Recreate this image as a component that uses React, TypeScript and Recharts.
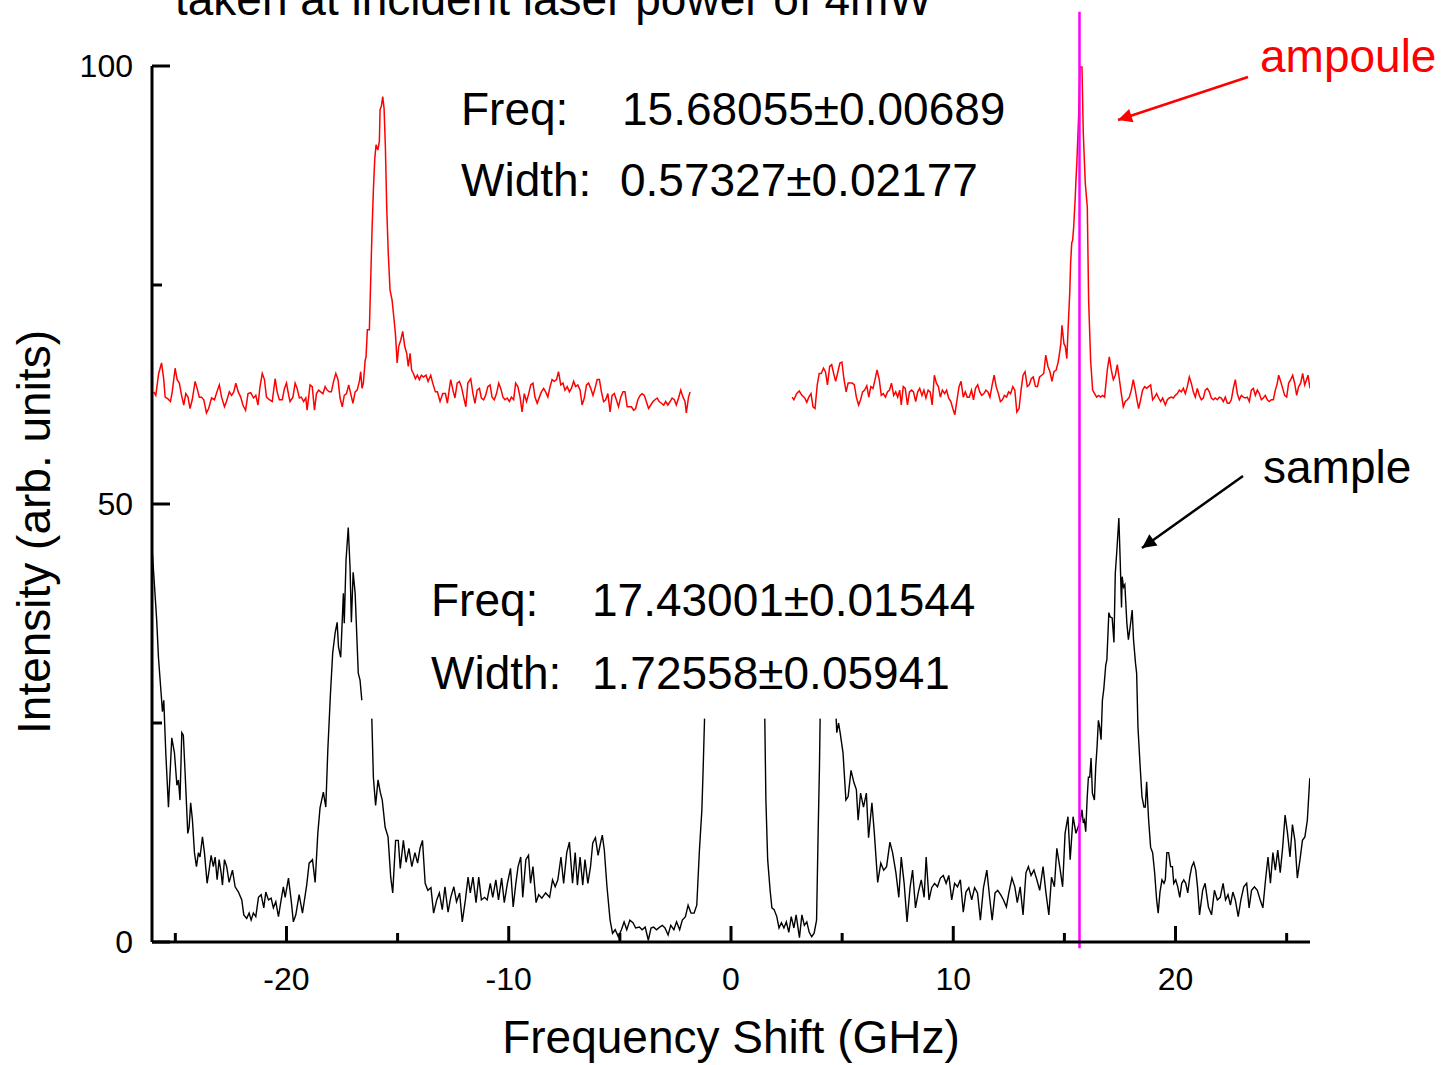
import { LineChart, Line, XAxis, YAxis, ReferenceLine } from 'recharts';

// Brillouin spectra: sample (black) and ampoule (red), frequency shift in GHz vs intensity

const xTicks = [-25, -20, -15, -10, -5, 0, 5, 10, 15, 20, 25];
const yTicks = [0, 25, 50, 75, 100];
const ampoulePeak = 15.68;

// sample trace, split where the line is hidden behind the fit box / Rayleigh line
const sampleWingLeft: [number, number][] = [
  [-26.04, 44.7], [-25.84, 36.8], [-25.76, 32.5], [-25.64, 28.4], [-25.58, 26.3], [-25.52, 27.6], [-25.43, 21.6], [-25.31, 15.4],
  [-25.16, 23.3], [-25.04, 21.6], [-24.93, 17.9], [-24.86, 18.5], [-24.79, 16.2], [-24.71, 23.9], [-24.64, 23.6], [-24.56, 19.3],
  [-24.44, 12.4], [-24.38, 13.1], [-24.31, 15.9], [-24.23, 13.9], [-24.14, 10.2], [-24.05, 8.6], [-23.96, 10.2], [-23.89, 9.7],
  [-23.78, 12.0], [-23.69, 10.2], [-23.57, 6.7], [-23.48, 8.2], [-23.39, 9.9], [-23.29, 8.6], [-23.21, 9.7], [-23.12, 7.1],
  [-23.03, 9.4], [-22.94, 7.9], [-22.88, 6.5], [-22.79, 9.4], [-22.69, 8.6], [-22.58, 6.8], [-22.43, 8.2], [-22.31, 6.3],
  [-22.16, 5.7], [-22.01, 4.8], [-21.92, 3.1], [-21.79, 2.7], [-21.68, 3.3], [-21.59, 2.5], [-21.49, 3.3], [-21.38, 2.9],
  [-21.26, 5.1], [-21.14, 5.4], [-21.02, 3.9], [-20.93, 5.7], [-20.81, 4.8], [-20.69, 5.0], [-20.59, 3.9], [-20.48, 4.6],
  [-20.36, 2.9], [-20.24, 4.8], [-20.14, 6.3], [-20.06, 5.1], [-19.91, 7.3], [-19.79, 4.8], [-19.69, 2.3], [-19.58, 3.1],
  [-19.43, 5.4], [-19.28, 3.3], [-19.09, 6.5], [-18.98, 9.0], [-18.83, 9.4], [-18.71, 6.8], [-18.59, 12.4], [-18.49, 15.3],
  [-18.34, 17.1], [-18.23, 15.4], [-18.14, 21.9], [-18.02, 28.4], [-17.92, 33.0], [-17.81, 35.3], [-17.72, 36.5], [-17.66, 33.7],
  [-17.56, 32.5], [-17.44, 39.8], [-17.40, 36.4], [-17.32, 43.6], [-17.22, 47.3], [-17.14, 42.8], [-17.08, 36.5], [-17.00, 42.2],
  [-16.91, 39.8], [-16.77, 30.7], [-16.69, 29.9], [-16.61, 27.6],
];

const sampleWingMid: [number, number][] = [
  [-16.16, 25.5], [-16.09, 18.8], [-15.99, 15.6], [-15.88, 18.5], [-15.78, 17.1], [-15.69, 16.2], [-15.56, 13.1], [-15.43, 12.0],
  [-15.31, 7.4], [-15.22, 5.6], [-15.09, 11.6], [-14.97, 11.6], [-14.88, 8.4], [-14.74, 11.6], [-14.62, 9.1], [-14.49, 10.7],
  [-14.36, 8.6], [-14.22, 10.2], [-14.10, 9.0], [-13.99, 10.7], [-13.88, 11.6], [-13.76, 6.7], [-13.64, 5.9], [-13.50, 6.2],
  [-13.38, 3.3], [-13.24, 4.8], [-13.12, 5.6], [-12.99, 3.7], [-12.87, 6.3], [-12.73, 3.4], [-12.61, 5.1], [-12.47, 6.3],
  [-12.35, 4.6], [-12.21, 5.6], [-12.09, 2.3], [-11.95, 4.8], [-11.83, 7.4], [-11.73, 5.6], [-11.61, 7.4], [-11.47, 4.5],
  [-11.35, 7.4], [-11.23, 4.8], [-11.09, 5.1], [-10.97, 4.8], [-10.83, 6.7], [-10.72, 5.1], [-10.58, 7.1], [-10.46, 4.8],
  [-10.32, 7.3], [-10.20, 4.5], [-10.06, 6.7], [-9.92, 8.4], [-9.80, 4.0], [-9.68, 6.7], [-9.58, 8.6], [-9.46, 9.7],
  [-9.37, 5.1], [-9.23, 9.4], [-9.11, 9.9], [-9.02, 6.7], [-8.91, 8.6], [-8.77, 4.5], [-8.65, 5.4], [-8.51, 5.0],
  [-8.34, 5.6], [-8.16, 5.1], [-8.03, 7.1], [-7.91, 6.3], [-7.79, 7.1], [-7.65, 9.7], [-7.53, 6.7], [-7.39, 10.2],
  [-7.27, 11.4], [-7.13, 6.7], [-7.01, 10.2], [-6.91, 6.5], [-6.79, 9.7], [-6.67, 6.5], [-6.57, 9.4], [-6.44, 6.7],
  [-6.32, 8.6], [-6.22, 11.3], [-6.10, 11.9], [-5.98, 9.9], [-5.87, 11.3], [-5.79, 12.2], [-5.70, 10.5], [-5.58, 6.3],
  [-5.44, 2.5], [-5.33, 1.0], [-5.21, 1.4], [-5.07, 0.6], [-4.93, 1.4], [-4.81, 2.3], [-4.69, 1.4], [-4.55, 2.5],
  [-4.41, 2.2], [-4.29, 1.6], [-4.12, 1.7], [-4.00, 1.4], [-3.86, 1.7], [-3.72, 0.2], [-3.60, 1.6], [-3.48, 1.7],
  [-3.35, 1.4], [-3.21, 1.7], [-3.09, 1.9], [-2.97, 1.6], [-2.83, 0.8], [-2.71, 1.9], [-2.57, 1.4], [-2.45, 2.3],
  [-2.31, 1.4], [-2.19, 2.5], [-2.05, 2.9], [-1.93, 4.2], [-1.80, 3.3], [-1.66, 3.3], [-1.54, 4.2], [-1.42, 10.5],
  [-1.31, 15.1], [-1.25, 20.0], [-1.19, 25.5],
];

const sampleCentre: [number, number][] = [
  [1.52, 25.5], [1.57, 16.2], [1.65, 9.4], [1.76, 5.9], [1.84, 3.9], [1.94, 3.7], [2.06, 2.9], [2.16, 1.6],
  [2.27, 2.2], [2.38, 1.6], [2.49, 2.3], [2.60, 1.1], [2.71, 2.9], [2.83, 1.6], [2.93, 3.1], [3.08, 0.5],
  [3.19, 3.1], [3.30, 1.9], [3.41, 2.3], [3.52, 1.1], [3.63, 0.6], [3.74, 1.0], [3.85, 2.5], [3.92, 12.4],
  [3.98, 20.0], [4.01, 25.5],
];

const sampleWingRight: [number, number][] = [
  [4.73, 25.5], [4.76, 23.9], [4.84, 25.0], [4.91, 23.9], [5.04, 21.6], [5.17, 16.2], [5.27, 16.6], [5.40, 19.6],
  [5.53, 18.2], [5.64, 17.4], [5.72, 13.9], [5.83, 17.0], [5.96, 15.4], [6.09, 17.0], [6.19, 11.9], [6.34, 15.9],
  [6.45, 12.4], [6.60, 6.8], [6.74, 9.0], [6.87, 8.2], [7.00, 8.6], [7.15, 11.4], [7.27, 10.2], [7.42, 7.9],
  [7.55, 5.1], [7.66, 9.7], [7.79, 6.7], [7.92, 2.3], [8.06, 6.3], [8.17, 8.2], [8.30, 3.9], [8.43, 5.7],
  [8.56, 7.1], [8.69, 5.1], [8.78, 9.7], [8.91, 4.8], [9.03, 6.2], [9.16, 6.7], [9.29, 6.3], [9.42, 7.3],
  [9.55, 7.6], [9.68, 6.7], [9.80, 7.6], [9.93, 4.8], [10.06, 6.7], [10.19, 6.3], [10.32, 7.1], [10.45, 3.4],
  [10.57, 5.7], [10.70, 6.2], [10.83, 4.8], [10.96, 6.2], [11.09, 5.6], [11.22, 2.5], [11.36, 6.2], [11.51, 8.2],
  [11.64, 5.0], [11.75, 2.5], [11.88, 5.6], [12.00, 5.9], [12.13, 5.4], [12.26, 4.8], [12.39, 4.0], [12.50, 5.6],
  [12.64, 7.3], [12.77, 6.3], [12.88, 4.5], [13.01, 6.3], [13.14, 3.1], [13.27, 7.9], [13.38, 8.6], [13.50, 7.6],
  [13.63, 8.2], [13.76, 7.1], [13.89, 5.9], [14.04, 8.6], [14.17, 5.6], [14.30, 3.1], [14.42, 7.4], [14.55, 6.3],
  [14.66, 10.7], [14.79, 8.6], [14.92, 6.3], [15.03, 12.4], [15.16, 14.3], [15.26, 9.4], [15.39, 14.3], [15.52, 12.4],
  [15.72, 13.9], [15.79, 15.1], [15.85, 13.6], [15.90, 13.9], [15.96, 12.6], [16.02, 16.2], [16.08, 18.8], [16.14, 18.8],
  [16.20, 21.0], [16.26, 17.0], [16.35, 16.2], [16.41, 20.0], [16.47, 22.3], [16.53, 25.3], [16.59, 24.5], [16.65, 23.1],
  [16.71, 27.6], [16.77, 28.8], [16.86, 31.6], [16.91, 32.2], [17.00, 37.6], [17.06, 37.1], [17.15, 37.0], [17.23, 34.2],
  [17.29, 42.1], [17.36, 44.7], [17.45, 48.4], [17.51, 43.6], [17.57, 38.2], [17.60, 41.7], [17.66, 40.5], [17.72, 40.8],
  [17.81, 36.4], [17.88, 34.5], [17.96, 36.0], [18.05, 37.9], [18.11, 34.5], [18.20, 31.8], [18.25, 30.7], [18.31, 24.5],
  [18.40, 20.4], [18.49, 16.6], [18.58, 15.4], [18.64, 15.4], [18.70, 18.3], [18.79, 13.9], [18.88, 10.8], [18.97, 10.2],
  [19.06, 7.9], [19.15, 4.8], [19.22, 3.3], [19.30, 5.7], [19.39, 7.1], [19.48, 6.7], [19.54, 7.1], [19.61, 10.2],
  [19.69, 10.2], [19.78, 8.6], [19.86, 8.6], [19.92, 6.7], [20.01, 7.1], [20.10, 6.3], [20.19, 5.1], [20.28, 6.7],
  [20.37, 7.1], [20.46, 6.7], [20.55, 5.6], [20.64, 7.4], [20.73, 8.6], [20.82, 9.1], [20.91, 8.2], [20.99, 6.3],
  [21.08, 3.1], [21.22, 5.9], [21.33, 6.7], [21.48, 4.0], [21.62, 3.1], [21.75, 5.9], [21.88, 4.8], [22.01, 5.1],
  [22.14, 6.7], [22.25, 4.8], [22.36, 5.4], [22.47, 4.2], [22.58, 5.7], [22.69, 4.8], [22.82, 2.9], [22.94, 4.8],
  [23.07, 6.3], [23.20, 6.7], [23.31, 3.9], [23.42, 5.9], [23.55, 6.3], [23.68, 5.9], [23.81, 4.8], [23.93, 3.9],
  [24.05, 7.1], [24.16, 9.7], [24.27, 6.7], [24.38, 10.2], [24.49, 8.2], [24.60, 10.5], [24.71, 7.9], [24.82, 10.8],
  [24.93, 14.5], [25.04, 12.4], [25.15, 9.7], [25.26, 13.4], [25.37, 11.6], [25.48, 7.3], [25.60, 9.4], [25.71, 11.6],
  [25.82, 12.0], [25.93, 13.9], [26.04, 18.7],
];

// ampoule trace (red), missing around the Rayleigh line
const ampouleLeft: [number, number][] = [
  [-25.97, 62.8], [-25.88, 62.4], [-25.75, 64.9], [-25.62, 66.1], [-25.52, 64.2], [-25.46, 62.2], [-25.33, 62.0], [-25.22, 61.7],
  [-25.14, 62.8], [-25.01, 65.5], [-24.92, 64.2], [-24.82, 63.8], [-24.72, 62.4], [-24.62, 61.3], [-24.53, 62.6], [-24.43, 62.2],
  [-24.34, 60.9], [-24.24, 61.9], [-24.11, 64.0], [-24.02, 63.2], [-23.92, 62.2], [-23.82, 62.2], [-23.72, 61.9], [-23.60, 60.4],
  [-23.50, 60.9], [-23.37, 62.1], [-23.24, 61.9], [-23.13, 62.8], [-23.02, 63.6], [-22.92, 62.2], [-22.79, 61.1], [-22.70, 61.7],
  [-22.57, 62.8], [-22.47, 62.4], [-22.37, 62.8], [-22.28, 63.8], [-22.17, 62.8], [-22.06, 62.2], [-21.96, 61.3], [-21.84, 60.7],
  [-21.73, 62.6], [-21.61, 62.7], [-21.48, 62.1], [-21.38, 62.4], [-21.28, 61.3], [-21.19, 63.4], [-21.09, 64.9], [-20.99, 64.2],
  [-20.90, 62.2], [-20.77, 61.9], [-20.64, 61.7], [-20.51, 64.3], [-20.42, 62.8], [-20.32, 61.9], [-20.19, 61.9], [-20.09, 63.2],
  [-20.00, 63.8], [-19.90, 62.4], [-19.84, 61.7], [-19.71, 62.2], [-19.61, 63.8], [-19.52, 63.2], [-19.42, 62.1], [-19.33, 62.2],
  [-19.23, 61.7], [-19.13, 62.1], [-19.07, 60.7], [-18.94, 63.6], [-18.84, 63.4], [-18.74, 60.7], [-18.65, 62.6], [-18.55, 63.0],
  [-18.46, 62.8], [-18.36, 62.6], [-18.26, 63.4], [-18.17, 63.0], [-18.07, 62.8], [-17.98, 62.8], [-17.88, 64.0], [-17.78, 64.9],
  [-17.68, 64.2], [-17.59, 62.1], [-17.49, 61.1], [-17.40, 62.4], [-17.30, 62.6], [-17.20, 63.6], [-17.11, 62.6], [-17.01, 61.5],
  [-16.91, 62.8], [-16.82, 63.0], [-16.72, 64.0], [-16.66, 65.1], [-16.60, 63.2], [-16.54, 63.8], [-16.46, 66.4], [-16.42, 66.8],
  [-16.36, 69.9], [-16.27, 69.9], [-16.21, 75.6], [-16.15, 81.3], [-16.09, 85.8], [-16.03, 89.3], [-15.97, 91.0], [-15.89, 90.4],
  [-15.82, 91.4], [-15.79, 95.0], [-15.73, 95.4], [-15.67, 96.5], [-15.61, 95.2], [-15.55, 90.8], [-15.49, 83.9], [-15.42, 78.6],
  [-15.34, 74.4], [-15.25, 73.3], [-15.19, 71.8], [-15.10, 69.5], [-15.02, 66.1], [-14.95, 68.0], [-14.86, 68.7], [-14.77, 69.7],
  [-14.68, 68.0], [-14.59, 67.2], [-14.52, 65.7], [-14.44, 67.2], [-14.37, 65.3], [-14.29, 64.9], [-14.20, 64.3], [-14.11, 64.7],
  [-14.02, 64.2], [-13.93, 64.7], [-13.84, 64.5], [-13.72, 64.7], [-13.63, 64.0], [-13.51, 64.7], [-13.42, 63.8], [-13.30, 62.8],
  [-13.21, 62.8], [-13.09, 61.7], [-12.97, 62.6], [-12.85, 62.6], [-12.76, 61.5], [-12.67, 63.2], [-12.61, 64.2], [-12.51, 63.0],
  [-12.42, 62.1], [-12.32, 63.8], [-12.22, 64.0], [-12.13, 63.4], [-12.03, 62.2], [-11.93, 61.1], [-11.84, 63.8], [-11.71, 64.3],
  [-11.61, 62.6], [-11.52, 61.5], [-11.42, 63.0], [-11.32, 63.2], [-11.23, 62.1], [-11.13, 61.9], [-11.04, 62.4], [-10.94, 63.4],
  [-10.84, 63.6], [-10.75, 62.2], [-10.65, 61.9], [-10.55, 62.6], [-10.45, 63.8], [-10.36, 63.2], [-10.26, 62.2], [-10.17, 61.9],
  [-10.07, 62.1], [-9.97, 61.7], [-9.88, 62.2], [-9.78, 61.9], [-9.69, 63.8], [-9.59, 63.4], [-9.49, 62.2], [-9.40, 60.5],
  [-9.30, 62.6], [-9.20, 61.7], [-9.10, 62.6], [-9.01, 63.6], [-8.91, 63.8], [-8.82, 62.2], [-8.72, 61.5], [-8.62, 62.2],
  [-8.53, 62.8], [-8.43, 63.2], [-8.34, 62.8], [-8.24, 62.2], [-8.14, 63.4], [-8.05, 64.2], [-7.95, 64.0], [-7.85, 64.2],
  [-7.76, 65.1], [-7.66, 63.6], [-7.56, 63.8], [-7.47, 63.0], [-7.37, 63.4], [-7.27, 62.8], [-7.18, 63.2], [-7.08, 64.0],
  [-6.99, 63.4], [-6.89, 63.6], [-6.79, 63.0], [-6.70, 61.3], [-6.60, 62.1], [-6.50, 63.6], [-6.41, 63.8], [-6.31, 63.2],
  [-6.21, 62.4], [-6.12, 63.2], [-6.02, 64.2], [-5.92, 64.2], [-5.83, 62.8], [-5.73, 61.7], [-5.64, 61.9], [-5.54, 62.6],
  [-5.44, 60.5], [-5.35, 62.4], [-5.25, 62.6], [-5.16, 61.9], [-5.06, 61.1], [-4.96, 62.2], [-4.86, 62.8], [-4.77, 62.8],
  [-4.67, 61.1], [-4.57, 61.1], [-4.48, 61.1], [-4.38, 60.7], [-4.29, 60.9], [-4.19, 61.9], [-4.09, 62.4], [-4.00, 62.6],
  [-3.90, 62.4], [-3.81, 61.7], [-3.71, 60.9], [-3.61, 61.3], [-3.51, 61.7], [-3.42, 61.9], [-3.32, 62.1], [-3.23, 61.7],
  [-3.13, 61.5], [-3.03, 61.3], [-2.94, 61.7], [-2.84, 61.3], [-2.74, 61.7], [-2.65, 62.1], [-2.55, 61.9], [-2.46, 61.3],
  [-2.36, 62.1], [-2.26, 63.0], [-2.16, 62.2], [-2.07, 61.7], [-2.01, 60.4], [-1.91, 62.2], [-1.84, 62.8],
];

const ampouleRight: [number, number][] = [
  [2.75, 62.2], [2.83, 61.9], [2.95, 62.6], [3.07, 62.9], [3.19, 62.4], [3.32, 62.1], [3.41, 61.6], [3.50, 62.2],
  [3.60, 62.6], [3.69, 61.1], [3.78, 60.9], [3.88, 63.6], [3.97, 64.9], [4.06, 64.9], [4.16, 65.5], [4.25, 65.1],
  [4.34, 63.6], [4.44, 65.7], [4.53, 65.9], [4.62, 64.9], [4.71, 64.0], [4.81, 65.1], [4.90, 66.1], [4.99, 66.2],
  [5.08, 64.3], [5.18, 62.8], [5.27, 63.8], [5.36, 63.8], [5.46, 63.8], [5.55, 63.6], [5.64, 62.2], [5.74, 61.3],
  [5.83, 61.9], [5.92, 62.8], [6.01, 63.0], [6.11, 63.5], [6.20, 62.2], [6.29, 63.4], [6.39, 63.2], [6.48, 64.2],
  [6.57, 65.3], [6.67, 64.2], [6.76, 62.4], [6.85, 62.6], [6.95, 62.2], [7.04, 62.8], [7.13, 63.0], [7.22, 63.8],
  [7.32, 62.4], [7.41, 62.8], [7.50, 62.2], [7.59, 63.0], [7.66, 61.3], [7.75, 63.4], [7.84, 63.2], [7.94, 61.3],
  [8.03, 62.8], [8.12, 63.0], [8.21, 62.8], [8.31, 61.7], [8.40, 62.8], [8.49, 63.2], [8.59, 62.4], [8.68, 63.0],
  [8.77, 62.1], [8.87, 63.0], [8.96, 62.8], [9.05, 61.3], [9.15, 64.7], [9.24, 63.8], [9.33, 63.4], [9.42, 62.2],
  [9.51, 63.0], [9.61, 62.6], [9.70, 63.0], [9.79, 62.1], [9.89, 61.7], [9.98, 60.9], [10.07, 60.2], [10.17, 61.9],
  [10.26, 63.4], [10.35, 64.0], [10.45, 62.2], [10.54, 62.8], [10.63, 62.2], [10.72, 62.2], [10.82, 63.0], [10.91, 61.9],
  [11.00, 63.2], [11.10, 63.6], [11.19, 62.8], [11.28, 62.4], [11.38, 62.6], [11.47, 63.0], [11.56, 62.8], [11.65, 62.2],
  [11.75, 63.6], [11.84, 64.7], [11.93, 63.4], [12.03, 62.6], [12.12, 61.7], [12.21, 61.9], [12.30, 62.4], [12.40, 62.2],
  [12.49, 62.8], [12.58, 62.6], [12.68, 63.4], [12.77, 63.0], [12.86, 60.5], [12.96, 60.9], [13.05, 63.0], [13.14, 64.7],
  [13.23, 65.1], [13.33, 63.4], [13.42, 63.6], [13.51, 64.3], [13.60, 64.5], [13.70, 63.4], [13.79, 63.4], [13.88, 64.5],
  [13.98, 64.7], [14.07, 64.9], [14.16, 67.0], [14.26, 65.7], [14.35, 65.1], [14.44, 64.0], [14.53, 65.1], [14.63, 65.3],
  [14.72, 66.2], [14.78, 67.2], [14.84, 68.3], [14.89, 70.4], [14.98, 68.3], [15.04, 68.0], [15.11, 66.6], [15.17, 70.2],
  [15.24, 74.1], [15.28, 77.5], [15.33, 79.8], [15.37, 80.1], [15.42, 81.7], [15.49, 85.1], [15.52, 87.0], [15.56, 88.9],
  [15.64, 94.2], [15.70, 99.9], [15.79, 99.9], [15.85, 92.3], [15.94, 86.6], [16.03, 83.9], [16.09, 73.3], [16.18, 66.4],
  [16.27, 63.0], [16.36, 62.6], [16.45, 62.2], [16.54, 62.4], [16.63, 62.2], [16.72, 62.4], [16.81, 62.2], [16.93, 65.3],
  [17.02, 66.8], [17.11, 65.3], [17.20, 64.2], [17.29, 64.7], [17.38, 65.9], [17.47, 64.3], [17.56, 62.6], [17.65, 61.1],
  [17.74, 61.7], [17.83, 61.9], [17.92, 62.2], [18.01, 63.0], [18.10, 64.2], [18.19, 63.0], [18.25, 62.1], [18.34, 60.9],
  [18.43, 61.9], [18.52, 63.0], [18.61, 63.4], [18.70, 63.2], [18.79, 63.4], [18.88, 63.6], [18.97, 61.9], [19.06, 62.2],
  [19.15, 62.6], [19.24, 62.1], [19.33, 61.7], [19.42, 62.1], [19.54, 61.3], [19.63, 61.9], [19.72, 62.1], [19.81, 62.2],
  [19.90, 62.1], [19.99, 62.4], [20.08, 62.6], [20.17, 63.0], [20.26, 62.8], [20.35, 63.2], [20.44, 62.6], [20.53, 63.4],
  [20.62, 64.5], [20.71, 63.8], [20.80, 62.8], [20.89, 62.2], [20.98, 63.2], [21.07, 62.4], [21.16, 61.9], [21.25, 62.1],
  [21.34, 63.0], [21.43, 63.2], [21.52, 62.8], [21.61, 62.1], [21.70, 61.9], [21.79, 62.1], [21.88, 61.9], [21.97, 62.2],
  [22.06, 62.1], [22.15, 61.7], [22.24, 62.2], [22.33, 61.5], [22.42, 61.5], [22.51, 61.9], [22.60, 63.2], [22.69, 64.2],
  [22.78, 62.6], [22.87, 61.9], [22.96, 62.4], [23.05, 62.2], [23.14, 62.1], [23.23, 62.2], [23.32, 61.7], [23.41, 63.0],
  [23.50, 63.2], [23.59, 62.4], [23.68, 63.0], [23.77, 62.6], [23.86, 61.9], [23.95, 62.1], [24.04, 62.4], [24.13, 61.9],
  [24.22, 61.7], [24.31, 61.9], [24.40, 61.9], [24.49, 63.0], [24.58, 63.8], [24.64, 64.7], [24.73, 64.0], [24.82, 63.2],
  [24.91, 62.4], [25.00, 62.2], [25.09, 63.8], [25.18, 64.2], [25.27, 64.7], [25.36, 63.8], [25.45, 62.4], [25.54, 63.4],
  [25.63, 63.8], [25.72, 64.9], [25.81, 63.6], [25.87, 64.0], [25.96, 64.7], [26.05, 63.2],
];

type Row = { f: number; v: number | null };
const rows = (pts: [number, number][]): Row[] => pts.map(([f, v]) => ({ f, v }));
const gap = (f: number): Row => ({ f, v: null });

const sampleData: Row[] = [
  ...rows(sampleWingLeft), gap(-16.4),
  ...rows(sampleWingMid), gap(0.2),
  ...rows(sampleCentre), gap(4.4),
  ...rows(sampleWingRight),
];
const ampouleData: Row[] = [...rows(ampouleLeft), gap(0.5), ...rows(ampouleRight)];

const FONT = '"Liberation Sans", Arial, Helvetica, sans-serif';

function XTick(props: any) {
  const { x, y, payload } = props;
  const major = payload.value % 10 === 0;
  return (
    <g>
      <line x1={x} x2={x} y1={y} y2={y - (major ? 16 : 9)} stroke="#000" strokeWidth={3} />
      {major && (
        <text x={x} y={y + 48} textAnchor="middle" fontSize={32} fontFamily={FONT} fill="#000">
          {payload.value}
        </text>
      )}
    </g>
  );
}

function YTick(props: any) {
  const { x, y, payload } = props;
  const major = payload.value % 50 === 0;
  return (
    <g>
      <line x1={x} x2={x + (major ? 18 : 10)} y1={y} y2={y} stroke="#000" strokeWidth={3} />
      {major && (
        <text x={x - 19} y={y + 11} textAnchor="end" fontSize={32} fontFamily={FONT} fill="#000">
          {payload.value}
        </text>
      )}
    </g>
  );
}

export default function App() {
  const big = { fontSize: 46, fontFamily: FONT };
  return (
    <div style={{ position: 'absolute', left: 0, top: 0, width: 1455, height: 1065, background: '#fff' }}>
      <LineChart width={1455} height={1065} margin={{ top: 66, right: 145, bottom: 83, left: 92 }}>
        <XAxis
          type="number"
          dataKey="f"
          domain={[-26.05, 26.05]}
          allowDataOverflow
          ticks={xTicks}
          interval={0}
          tick={<XTick />}
          tickLine={false}
          tickSize={0}
          tickMargin={0}
          axisLine={{ stroke: '#000', strokeWidth: 3 }}
          height={40}
        />
        <YAxis
          type="number"
          dataKey="v"
          domain={[0, 100]}
          allowDataOverflow
          ticks={yTicks}
          interval={0}
          tick={<YTick />}
          tickLine={false}
          tickSize={0}
          tickMargin={0}
          axisLine={{ stroke: '#000', strokeWidth: 3 }}
          width={60}
        />
        <Line data={sampleData} dataKey="v" stroke="#000" strokeWidth={1.4} dot={false} isAnimationActive={false} />
        <Line data={ampouleData} dataKey="v" stroke="#ff0000" strokeWidth={1.5} dot={false} isAnimationActive={false} />
        <ReferenceLine
          segment={[{ x: ampoulePeak, y: -0.7 }, { x: ampoulePeak, y: 106.2 }]}
          stroke="#ff00ff"
          strokeWidth={2.5}
          ifOverflow="visible"
        />
      </LineChart>
      <svg
        width={1455}
        height={1065}
        style={{ position: 'absolute', left: 0, top: 0, pointerEvents: 'none' }}
      >
        <defs>
          <marker id="headRed" viewBox="0 0 10 10" refX="10" refY="5" markerWidth="26" markerHeight="14" markerUnits="userSpaceOnUse" orient="auto">
            <path d="M0,0 L10,5 L0,10 z" fill="#ff0000" />
          </marker>
          <marker id="headBlack" viewBox="0 0 10 10" refX="10" refY="5" markerWidth="24" markerHeight="14" markerUnits="userSpaceOnUse" orient="auto">
            <path d="M0,0 L10,5 L0,10 z" fill="#000" />
          </marker>
        </defs>
        <text x={175} y={15} {...big} fill="#000">taken at incident laser power of 4mW</text>

        <text x={461} y={125} {...big} fill="#000">Freq:</text>
        <text x={622} y={125} {...big} fill="#000">15.68055±0.00689</text>
        <text x={461} y={196} {...big} fill="#000">Width:</text>
        <text x={620} y={196} {...big} fill="#000">0.57327±0.02177</text>

        <text x={431} y={616} {...big} fill="#000">Freq:</text>
        <text x={592} y={616} {...big} fill="#000">17.43001±0.01544</text>
        <text x={431} y={689} {...big} fill="#000">Width:</text>
        <text x={592} y={689} {...big} fill="#000">1.72558±0.05941</text>

        <text x={1260} y={72} {...big} fill="#ff0000">ampoule</text>
        <line x1={1248} y1={77} x2={1118} y2={120} stroke="#ff0000" strokeWidth={2.5} markerEnd="url(#headRed)" />
        <text x={1263} y={483} {...big} fill="#000">sample</text>
        <line x1={1243} y1={476} x2={1142} y2={548} stroke="#000" strokeWidth={2.5} markerEnd="url(#headBlack)" />

        <text x={731} y={1053} textAnchor="middle" {...big} fill="#000">Frequency Shift (GHz)</text>
        <text transform="translate(50,532) rotate(-90)" textAnchor="middle" {...big} fill="#000">
          Intensity (arb. units)
        </text>
      </svg>
    </div>
  );
}
